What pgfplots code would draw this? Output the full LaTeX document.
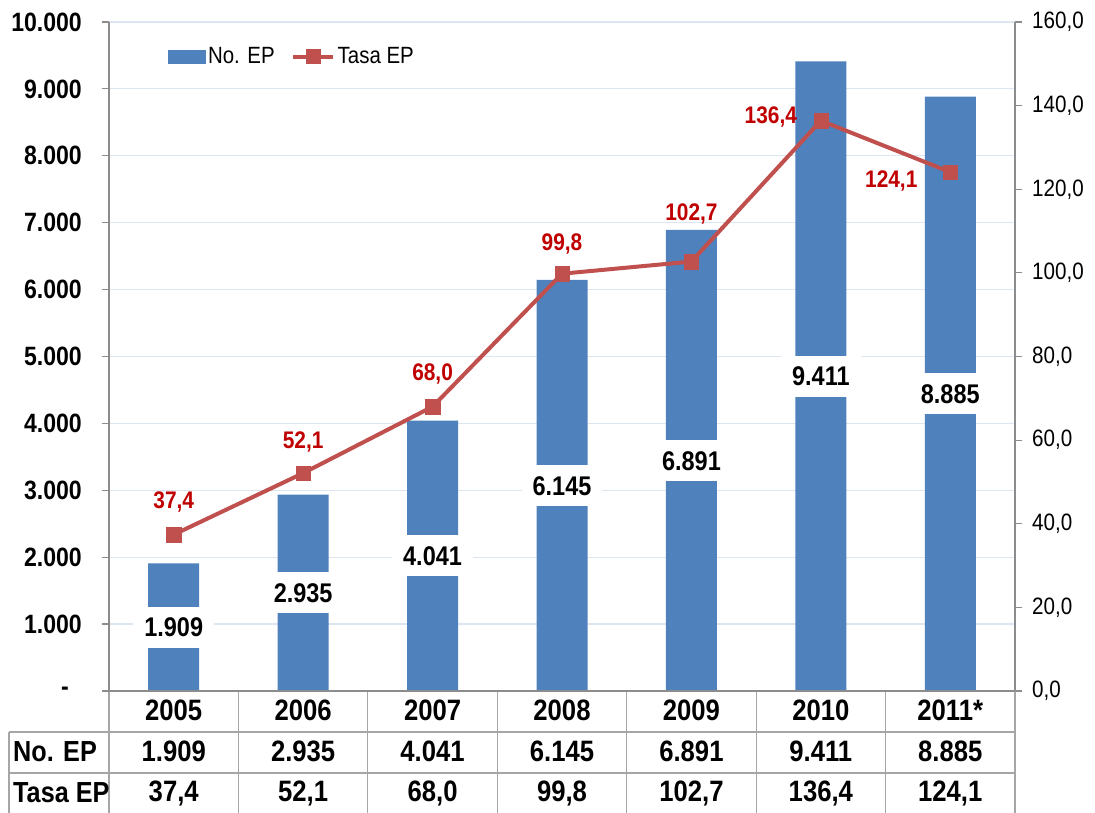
\documentclass[border=0pt]{standalone}
\usepackage{fontspec}
\setmainfont{Liberation Sans}[FakeStretch=0.87]
\usepackage{pgfplots}
\usepackage{pgfplotstable}
\pgfplotsset{compat=1.18}
\definecolor{barblue}{HTML}{4F81BD}
\definecolor{linered}{HTML}{C0504D}
\definecolor{lblred}{HTML}{C00000}
\definecolor{gridc}{HTML}{DCE6F1}
\definecolor{axisc}{HTML}{8C8C8C}
\definecolor{tablec}{HTML}{A6A6A6}
\pgfplotsset{
  redleg/.style={legend image code/.code={\draw[mark repeat=2,mark phase=2,##1] plot coordinates {(0pt,0pt) (20pt,0pt) (40pt,0pt)};}},
  blueleg/.style={legend image code/.code={\fill[barblue] (0pt,-6.5pt) rectangle (37pt,6.5pt);}},
}

\pgfplotstableread{
x year n nl t tl dx dy
0 2005 1909 1.909 37.4 37,4 0 34.6
1 2006 2935 2.935 52.1 52,1 0 33
2 2007 4041 4.041 68.0 68,0 0 35
3 2008 6145 6.145 99.8 99,8 0 32
4 2009 6891 6.891 102.7 102,7 0 50
5 2010 9411 9.411 136.4 136,4 -50 6
6 2011* 8885 8.885 124.1 124,1 -59 -7
}\data

\begin{document}
\begin{tikzpicture}
\useasboundingbox (-109pt,-122pt) rectangle (986pt,691pt);
\begin{axis}[
  at={(0pt,0pt)}, anchor=south west, scale only axis,
  width=906pt, height=669pt,
  xmin=-0.5, xmax=6.5, ymin=0, ymax=10000,
  scaled y ticks=false,
  axis x line*=bottom, axis y line*=left,
  axis line style={axisc, line width=1.2pt},
  xtick={0,...,6},
  xticklabels={{2005\\1.909\\37,4},{2006\\2.935\\52,1},{2007\\4.041\\68,0},{2008\\6.145\\99,8},{2009\\6.891\\102,7},{2010\\9.411\\136,4},{2011*\\8.885\\124,1}},
  xtick style={draw=none},
  xticklabel style={align=center, inner sep=0pt, anchor=north, yshift=-2pt, font=\bfseries\fontsize{29.5}{40.5}\selectfont},
  ytick={0,1000,...,10000},
  yticklabels={{-\hspace*{13pt}},1.000,2.000,3.000,4.000,5.000,6.000,7.000,8.000,9.000,10.000},
  yticklabel style={anchor=east, inner sep=0pt, xshift=-20pt, font=\bfseries\fontsize{26.5}{30}\selectfont},
  tick align=outside, major tick length=7pt,
  ytick style={axisc, line width=1.2pt},
  ymajorgrids, grid style={gridc, line width=1.2pt},
  clip=false,
]
\addplot[ybar, bar width=51pt, fill=barblue, draw=none] table[x=x, y=n]{\data};
\addplot[draw=none, mark=none, nodes near coords, point meta=explicit symbolic,
  every node near coord/.append style={anchor=center, fill=white, inner xsep=11pt, inner ysep=0pt, text height=19.3pt, text depth=0pt, minimum height=41pt, text=black, font=\bfseries\fontsize{27}{30}\selectfont}]
  table[x=x, y expr=\thisrow{n}/2, meta=nl]{\data};
\end{axis}
\begin{axis}[
  at={(0pt,0pt)}, anchor=south west, scale only axis,
  width=906pt, height=669pt,
  xmin=-0.5, xmax=6.5, ymin=0, ymax=160,
  axis y line*=right, axis x line=none,
  axis line style={axisc, line width=1.2pt},
  ytick={0,20,...,160},
  yticklabels={{0,0},{20,0},{40,0},{60,0},{80,0},{100,0},{120,0},{140,0},{160,0}},
  yticklabel style={anchor=west, inner sep=0pt, xshift=10pt, font=\fontsize{23.7}{28}\selectfont},
  tick align=outside, major tick length=7pt,
  ytick style={axisc, line width=1.2pt},
  clip=false,
  legend style={draw=none, fill=none, at={(0.0651,0.9484)}, anchor=west, legend columns=2,
    font=\fontsize{23.5}{28}\selectfont, inner sep=0pt,
    nodes={inner sep=2.5pt},
    /tikz/every even column/.append style={column sep=14pt}},
]
\addlegendimage{blueleg}
\addlegendentry{No. EP}
\addlegendimage{linered, line width=4pt, mark=square*, mark size=7pt, mark options={fill=linered, line width=0.3pt}, redleg}
\addlegendentry{Tasa EP}
\addplot[linered, line width=4pt, mark=square*, mark size=7.2pt,
  mark options={fill=linered, draw=linered, line width=0.3pt},
  nodes near coords, point meta=explicit symbolic,
  visualization depends on={\thisrow{dx} \as \dx},
  visualization depends on={\thisrow{dy} \as \dy},
  every node near coord/.append style={anchor=center, xshift=\dx pt, yshift=\dy pt, text=lblred, inner sep=0pt, text height=17.2pt, text depth=0pt, font=\bfseries\fontsize{24}{28}\selectfont}]
  table[x=x, y=t, meta=tl]{\data};
\end{axis}
\begin{scope}[tablec, line width=1.2pt]
\draw (-100pt,-41pt) -- (906pt,-41pt);
\draw (-100pt,-82pt) -- (906pt,-82pt);
\draw (-100pt,-41pt) -- (-100pt,-122pt);
\foreach \k in {0,...,7} \draw (\k*129.4286pt,0pt) -- (\k*129.4286pt,-122pt);
\end{scope}
\draw[axisc, line width=1.2pt] (-7pt,0pt) -- (906pt,0pt);
\node[anchor=base west, inner sep=0pt, font=\bfseries\fontsize{29}{30}\selectfont] at (-96pt,-71pt) {No. EP};
\node[anchor=base west, inner sep=0pt, font=\bfseries\fontsize{29}{30}\selectfont] at (-96pt,-111.5pt) {Tasa EP};
\end{tikzpicture}
\end{document}
